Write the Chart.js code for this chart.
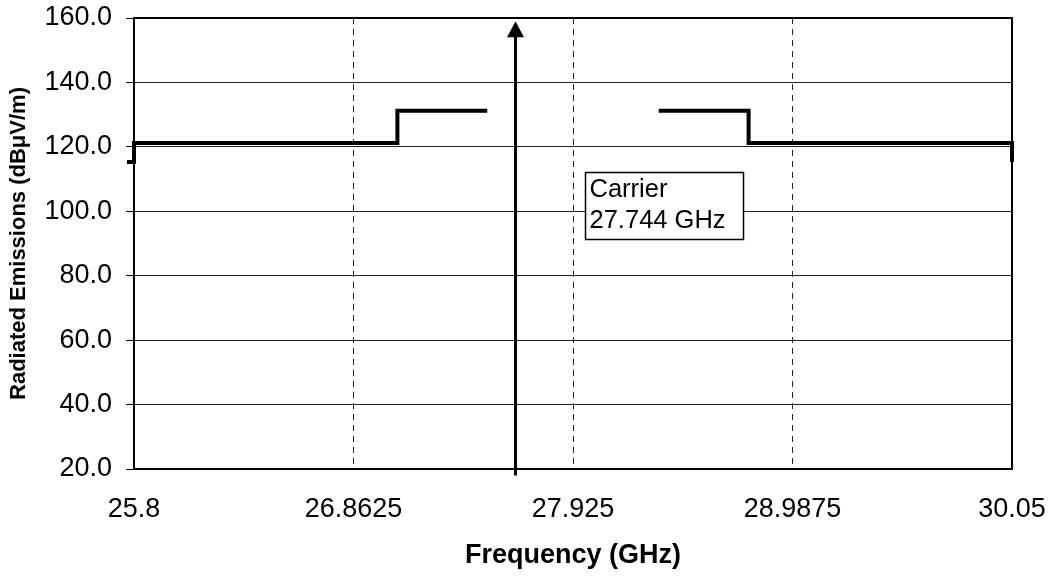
<!DOCTYPE html>
<html>
<head>
<meta charset="utf-8">
<script src="https://cdn.jsdelivr.net/npm/chart.js@4"></script>
<style>
  body { margin: 0; background: #fff; }
  canvas { display: block; }
</style>
</head>
<body>
<canvas id="chart" width="1055" height="577"></canvas>
<script>
// Données
const xTicks = [25.8, 26.8625, 27.925, 28.9875, 30.05];
const xTickLabels = ['25.8', '26.8625', '27.925', '28.9875', '30.05'];
const yTicks = [20, 40, 60, 80, 100, 120, 140, 160];

// Masque d'émission (null = coupure au centre)
const maskFreq = [25.766, 25.8, 25.8, 27.075, 27.075, 27.51, 27.925, 28.34, 28.775, 28.775, 30.05, 30.05, 30.084];
const maskLevel = [115.3, 115.3, 121.2, 121.2, 131.2, 131.2, null, 131.2, 131.2, 121.2, 121.2, 115.3, 115.3];

// Flèche de la porteuse + étiquette
const carrierFreq = 27.644;
const carrierLevels = [18, 159];
const carrierLabel = ['Carrier', '27.744 GHz'];
const labelBoxFreq = [27.983, 28.75];
const labelBoxLevel = [112.3, 91.3];

const FONT = "'Liberation Sans', Arial, sans-serif";

const maskData = maskFreq.map((f, i) => ({ x: f, y: maskLevel[i] }));

// pas de marge auto pour les libellés : la zone du graphe reste fixe
function noPadding(s) {
    s.paddingTop = 0;
    s.paddingBottom = 0;
    s.paddingLeft = 0;
    s.paddingRight = 0;
}

// Cadre haut/droite, flèche et boîte de texte
const extrasPlugin = {
    id: 'extras',
    afterDatasetsDraw(chart) {
        const ctx = chart.ctx;
        const xs = chart.scales.x;
        const ys = chart.scales.y;
        const area = chart.chartArea;

        ctx.save();
        ctx.strokeStyle = '#000';
        ctx.lineWidth = 2;
        ctx.beginPath();
        ctx.moveTo(area.left, area.top);
        ctx.lineTo(area.right, area.top);
        ctx.lineTo(area.right, area.bottom);
        ctx.stroke();

        // flèche
        const ax = Math.round(xs.getPixelForValue(carrierFreq)) + 0.5;
        const yBottom = ys.getPixelForValue(carrierLevels[0]);
        const yTip = ys.getPixelForValue(carrierLevels[1]);
        ctx.lineWidth = 3;
        ctx.beginPath();
        ctx.moveTo(ax, yBottom);
        ctx.lineTo(ax, yTip + 14);
        ctx.stroke();
        ctx.fillStyle = '#000';
        ctx.beginPath();
        ctx.moveTo(ax, yTip);
        ctx.lineTo(ax - 8.5, yTip + 16);
        ctx.lineTo(ax + 8.5, yTip + 16);
        ctx.closePath();
        ctx.fill();

        // boîte
        const bx1 = Math.round(xs.getPixelForValue(labelBoxFreq[0])) + 0.5;
        const bx2 = Math.round(xs.getPixelForValue(labelBoxFreq[1])) + 0.5;
        const by1 = Math.round(ys.getPixelForValue(labelBoxLevel[0])) + 0.5;
        const by2 = Math.round(ys.getPixelForValue(labelBoxLevel[1])) + 0.5;
        ctx.fillStyle = '#fff';
        ctx.fillRect(bx1, by1, bx2 - bx1, by2 - by1);
        ctx.lineWidth = 1.5;
        ctx.strokeRect(bx1, by1, bx2 - bx1, by2 - by1);
        ctx.fillStyle = '#000';
        ctx.font = '25.5px ' + FONT;
        ctx.textAlign = 'left';
        ctx.textBaseline = 'alphabetic';
        ctx.fillText(carrierLabel[0], bx1 + 4, by1 + 24.5);
        ctx.fillText(carrierLabel[1], bx1 + 4, by1 + 55);
        ctx.restore();
    }
};

new Chart(document.getElementById('chart'), {
    type: 'line',
    data: {
        datasets: [{
            data: maskData,
            borderColor: '#000',
            borderWidth: 4,
            borderJoinStyle: 'miter',
            borderCapStyle: 'butt',
            pointRadius: 0,
            tension: 0,
            spanGaps: false,
            clip: false
        }]
    },
    options: {
        responsive: false,
        animation: false,
        layout: { padding: { top: 18, right: 43, left: 0, bottom: 0 } },
        plugins: {
            legend: { display: false },
            tooltip: { enabled: false }
        },
        scales: {
            x: {
                type: 'linear',
                min: 25.8,
                max: 30.05,
                afterFit: s => { s.height = 108; noPadding(s); },
                afterBuildTicks: s => { s.ticks = xTicks.map(v => ({ value: v })); },
                ticks: {
                    color: '#000',
                    font: { family: FONT, size: 27 },
                    padding: 24,
                    maxRotation: 0,
                    autoSkip: false,
                    callback: (v) => xTickLabels[xTicks.indexOf(v)]
                },
                grid: {
                    drawTicks: false,
                    color: ctx => (ctx.index === 0 || ctx.index === xTicks.length - 1) ? 'rgba(0,0,0,0)' : '#222',
                    lineWidth: 1
                },
                border: { display: true, color: '#000', width: 2, dash: [6, 5], dashOffset: 0 },
                title: {
                    display: true,
                    text: 'Frequency (GHz)',
                    color: '#000',
                    font: { family: FONT, size: 27, weight: 'bold', lineHeight: 1.2 },
                    padding: { top: 0, bottom: 5 }
                }
            },
            y: {
                min: 20,
                max: 160,
                afterFit: s => { s.width = 134; noPadding(s); },
                afterBuildTicks: s => { s.ticks = yTicks.map(v => ({ value: v })); },
                ticks: {
                    color: '#000',
                    font: { family: FONT, size: 27 },
                    padding: 14,
                    callback: v => v.toFixed(1)
                },
                grid: {
                    color: '#222',
                    lineWidth: 1,
                    tickLength: 8,
                    tickColor: '#000'
                },
                border: { display: true, color: '#000', width: 2 },
                title: {
                    display: true,
                    text: 'Radiated Emissions (dBμV/m)',
                    color: '#000',
                    font: { family: FONT, size: 22, weight: 'bold', lineHeight: 1.2 },
                    padding: { top: 6, bottom: 0 }
                }
            }
        }
    },
    plugins: [extrasPlugin]
});
</script>
</body>
</html>
